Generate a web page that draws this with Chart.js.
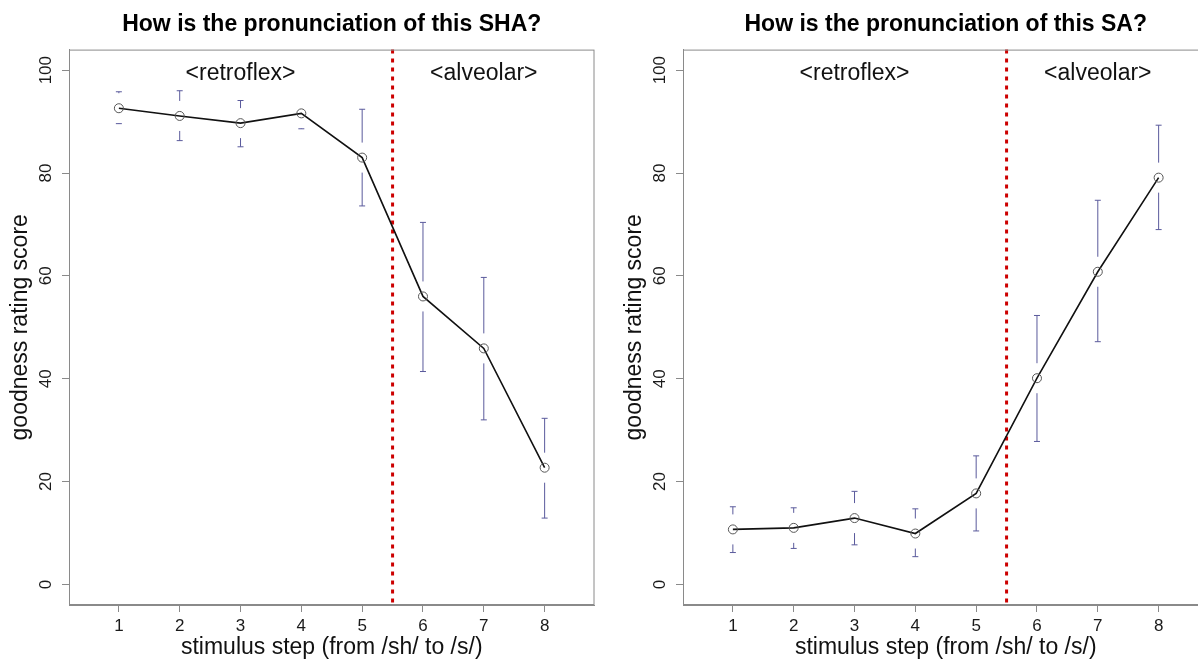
<!DOCTYPE html>
<html>
<head>
<meta charset="utf-8">
<script src="https://cdn.jsdelivr.net/npm/chart.js@4.4.1/dist/chart.umd.min.js"></script>
<style>
  html, body { margin: 0; padding: 0; background: #fff; }
  body { width: 1198px; height: 662px; overflow: hidden; position: relative; }
  canvas { position: absolute; top: 0; }
  #sha { left: 0; }
  #sa { left: 614px; }
</style>
</head>
<body>
<canvas id="sha" width="600" height="662"></canvas>
<canvas id="sa" width="600" height="662"></canvas>
<script>
// stimulus steps on the continuum
const steps = [1, 2, 3, 4, 5, 6, 7, 8];
const yTicks = [0, 20, 40, 60, 80, 100];
const boundary = 5.5;

// SHA ratings: mean and error bar ends
const shaMean  = [92.6, 91.1, 89.7, 91.6, 83.0, 56.0, 45.9, 22.7];
const shaUpper = [95.8, 96.0, 94.1, 94.3, 92.4, 70.4, 59.7, 32.3];
const shaLower = [89.6, 86.3, 85.1, 88.6, 73.6, 41.4, 32.0, 12.9];

// SA ratings
const saMean  = [10.7, 11.0, 12.9, 9.9, 17.7, 40.1, 60.8, 79.1];
const saUpper = [15.1, 14.9, 18.1, 14.7, 25.0, 52.3, 74.7, 89.3];
const saLower = [6.2, 7.0, 7.7, 5.4, 10.4, 27.8, 47.2, 69.0];

// region labels
const regions = [
  { x: 3, y: 100, text: "<retroflex>" },
  { x: 7, y: 100, text: "<alveolar>" },
];

const FONT = "'Liberation Sans', Arial, sans-serif";
const AXIS_GREY = "#8a8a8a";

function makeChart(id, title, mean, upper, lower) {
  const extras = {
    id: "extras",
    beforeDatasetsDraw(chart) {
      const { ctx, chartArea: a, scales: { x, y } } = chart;
      ctx.save();
      // category boundary
      const bx = x.getPixelForValue(boundary);
      ctx.strokeStyle = "#cc0000";
      ctx.lineWidth = 3;
      ctx.setLineDash([4, 5]);
      ctx.beginPath();
      ctx.moveTo(bx, a.top);
      ctx.lineTo(bx, a.bottom);
      ctx.stroke();
      ctx.setLineDash([]);

      // error bars, with a gap round each point
      ctx.strokeStyle = "#5a5a9c";
      ctx.lineWidth = 1;
      const gap = 15;
      steps.forEach((s, i) => {
        const px = x.getPixelForValue(s);
        const pm = y.getPixelForValue(mean[i]);
        const pu = y.getPixelForValue(upper[i]);
        const pl = y.getPixelForValue(lower[i]);
        if (pm - gap > pu) {
          ctx.beginPath();
          ctx.moveTo(px, pm - gap);
          ctx.lineTo(px, pu);
          ctx.moveTo(px - 3, pu);
          ctx.lineTo(px + 3, pu);
          ctx.stroke();
        }
        if (pm + gap < pl) {
          ctx.beginPath();
          ctx.moveTo(px, pm + gap);
          ctx.lineTo(px, pl);
          ctx.moveTo(px - 3, pl);
          ctx.lineTo(px + 3, pl);
          ctx.stroke();
        }
      });
      ctx.restore();
    },
    afterDraw(chart) {
      const { ctx, chartArea: a, scales: { x, y } } = chart;
      ctx.save();
      ctx.strokeStyle = AXIS_GREY;
      ctx.lineWidth = 1;
      ctx.strokeRect(a.left + 0.5, a.top + 0.5, a.right - a.left - 1, a.bottom - a.top - 1);
      ctx.fillStyle = "#111";
      ctx.font = "23px " + FONT;
      ctx.textAlign = "center";
      ctx.textBaseline = "alphabetic";
      regions.forEach(r => {
        ctx.fillText(r.text, x.getPixelForValue(r.x), y.getPixelForValue(r.y) + 10);
      });
      ctx.restore();
    },
  };

  return new Chart(document.getElementById(id), {
    type: "line",
    data: {
      datasets: [{
        data: steps.map((s, i) => ({ x: s, y: mean[i] })),
        borderColor: "#111",
        borderWidth: 1.6,
        pointRadius: 4.5,
        pointBorderColor: "#555",
        pointBorderWidth: 1,
        pointBackgroundColor: "rgba(0,0,0,0)",
        tension: 0,
      }],
    },
    options: {
      responsive: false,
      animation: false,
      devicePixelRatio: 1,
      layout: { padding: { top: 0, right: 4, left: 0, bottom: 0 } },
      plugins: {
        legend: { display: false },
        tooltip: { enabled: false },
        title: {
          display: true,
          text: title,
          fullSize: false,
          color: "#000",
          font: { family: FONT, size: 23, weight: "bold", lineHeight: 1.2 },
          padding: { top: 11, bottom: 11 },
        },
      },
      scales: {
        x: {
          type: "linear",
          min: 0.18,
          max: 8.82,
          afterBuildTicks: s => { s.ticks = steps.map(v => ({ value: v })); },
          afterFit: s => { s.height = 57; },
          ticks: {
            autoSkip: false,
            maxRotation: 0,
            padding: 4,
            color: "#1a1a1a",
            font: { family: FONT, size: 17 },
          },
          grid: { drawOnChartArea: false, tickLength: 7, color: AXIS_GREY },
          border: { color: AXIS_GREY },
          title: {
            display: true,
            text: "stimulus step (from /sh/ to /s/)",
            color: "#111",
            font: { family: FONT, size: 23, lineHeight: 1.2 },
            padding: { top: 0, bottom: 1 },
          },
        },
        y: {
          type: "linear",
          min: -4,
          max: 104,
          afterBuildTicks: s => { s.ticks = yTicks.map(v => ({ value: v })); },
          afterFit: s => { s.width = 69; },
          ticks: {
            minRotation: 90,
            maxRotation: 90,
            crossAlign: "center",
            padding: 2,
            color: "#1a1a1a",
            font: { family: FONT, size: 17 },
          },
          grid: { drawOnChartArea: false, tickLength: 7, color: AXIS_GREY },
          border: { color: AXIS_GREY },
          title: {
            display: true,
            text: "goodness rating score",
            color: "#111",
            font: { family: FONT, size: 23, lineHeight: 1.2 },
            padding: { top: 7, bottom: 0 },
          },
        },
      },
    },
    plugins: [extras],
  });
}

makeChart("sha", "How is the pronunciation of this SHA?", shaMean, shaUpper, shaLower);
makeChart("sa", "How is the pronunciation of this SA?", saMean, saUpper, saLower);
</script>
</body>
</html>
